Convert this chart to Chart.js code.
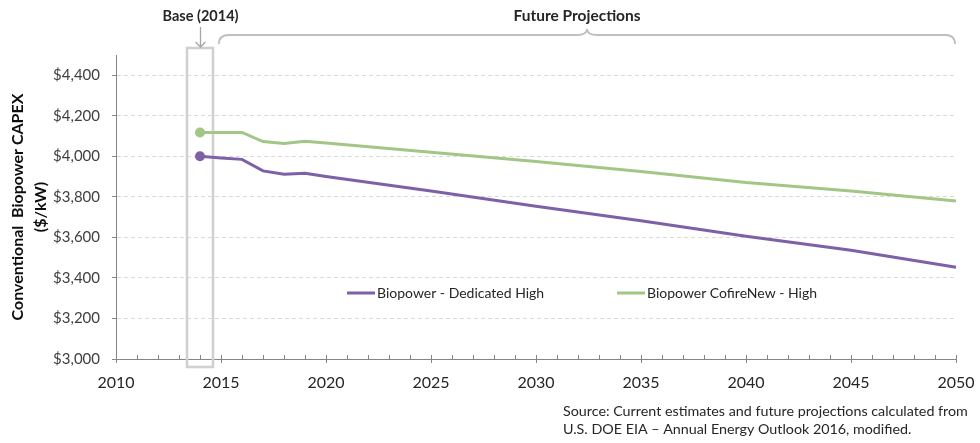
<!DOCTYPE html>
<html>
<head>
<meta charset="utf-8">
<script src="https://cdn.jsdelivr.net/npm/chart.js@4/dist/chart.umd.min.js"></script>
<style>
  html, body { margin: 0; padding: 0; background: #fff; }
  #wrap { width: 980px; height: 443px; position: relative; }
</style>
</head>
<body>
<div id="wrap"><canvas id="c" width="980" height="443"></canvas></div>
<script>
// ---- Data ----
const years = [2014, 2015, 2016, 2017, 2018, 2019, 2020, 2025, 2030, 2035, 2040, 2045, 2050];
const dedicatedHigh = [4000, 3992, 3985, 3928, 3912, 3916, 3900, 3829, 3754, 3682, 3606, 3537, 3453];
const cofireNewHigh = [4118, 4118, 4118, 4073, 4063, 4074, 4066, 4020, 3974, 3925, 3871, 3829, 3780];
const seriesNames = ['Biopower - Dedicated High', 'Biopower CofireNew - High'];
const yAxisTitle = ['Conventional  Biopower CAPEX', '($/kW)'];
const baseYear = 2014;
const baseLabel = 'Base (2014)';
const futureLabel = 'Future Projections';
const sourceLines = [
  'Source: Current estimates and future projections calculated from',
  'U.S. DOE EIA \u2013 Annual Energy Outlook 2016, modified.'
];

const PURPLE = '#7D60A7';
const GREEN = '#A3C586';
const FONT = 'Lato, "Open Sans", "DejaVu Sans", sans-serif';

const toPoints = (xs, ys) => xs.map((x, i) => ({ x: x, y: ys[i] }));

const annotations = {
  id: 'annotations',
  beforeDatasetsDraw(chart) {
    const { ctx } = chart;
    const xs = chart.scales.x;
    const area = chart.chartArea;
    ctx.save();
    // minor / major x ticks
    ctx.strokeStyle = '#868686';
    ctx.lineWidth = 1;
    for (let yr = xs.min; yr <= xs.max; yr++) {
      const px = Math.round(xs.getPixelForValue(yr)) + 0.5;
      ctx.beginPath();
      ctx.moveTo(px, area.bottom - 4);
      ctx.lineTo(px, yr % 5 === 0 ? area.bottom + 4 : area.bottom);
      ctx.stroke();
    }
    // base year box
    const bx = xs.getPixelForValue(baseYear);
    const halfW = 13;
    ctx.strokeStyle = '#D0D0D0';
    ctx.lineWidth = 2.6;
    ctx.strokeRect(bx - halfW, area.top - 7, halfW * 2, area.bottom - area.top + 15);
    ctx.restore();
  },
  afterDraw(chart) {
    const { ctx } = chart;
    const xs = chart.scales.x;
    const area = chart.chartArea;
    ctx.save();
    const bx = Math.round(xs.getPixelForValue(baseYear)) + 0.5;
    // Base label
    ctx.fillStyle = '#262626';
    ctx.font = 'bold 14.5px ' + FONT;
    ctx.textAlign = 'center';
    ctx.textBaseline = 'alphabetic';
    ctx.fillText(baseLabel, bx, 21);
    // arrow
    ctx.strokeStyle = '#A6A6A6';
    ctx.lineWidth = 1.3;
    ctx.beginPath();
    ctx.moveTo(bx, 27);
    ctx.lineTo(bx, area.top - 8);
    ctx.moveTo(bx - 5, area.top - 13);
    ctx.lineTo(bx, area.top - 8);
    ctx.lineTo(bx + 5, area.top - 13);
    ctx.stroke();
    // curly brace
    const x0 = xs.getPixelForValue(2014.9);
    const x1 = xs.getPixelForValue(xs.max) - 1;
    const xm = 587;
    const yb = 35, yTop = 29, yEnd = 44;
    ctx.strokeStyle = '#BFBFBF';
    ctx.lineWidth = 1.8;
    ctx.beginPath();
    ctx.moveTo(x0, yEnd);
    ctx.quadraticCurveTo(x0, yb, x0 + 10, yb);
    ctx.lineTo(xm - 10, yb);
    ctx.quadraticCurveTo(xm, yb, xm, yTop);
    ctx.quadraticCurveTo(xm, yb, xm + 10, yb);
    ctx.lineTo(x1 - 10, yb);
    ctx.quadraticCurveTo(x1, yb, x1, yEnd);
    ctx.stroke();
    ctx.fillStyle = '#262626';
    ctx.font = 'bold 15.5px ' + FONT;
    ctx.textAlign = 'center';
    ctx.fillText(futureLabel, 577, 21);
    // legend (inside plot area)
    const ly = 293;
    const items = [
      { x: 347, color: chart.data.datasets[0].borderColor, text: chart.data.datasets[0].label },
      { x: 617, color: chart.data.datasets[1].borderColor, text: chart.data.datasets[1].label }
    ];
    ctx.font = '14px ' + FONT;
    ctx.textAlign = 'left';
    ctx.textBaseline = 'middle';
    items.forEach(it => {
      ctx.strokeStyle = it.color;
      ctx.lineWidth = 3;
      ctx.beginPath();
      ctx.moveTo(it.x, ly);
      ctx.lineTo(it.x + 28, ly);
      ctx.stroke();
      ctx.fillStyle = '#262626';
      ctx.fillText(it.text, it.x + 30, ly);
    });
    // source
    ctx.font = '14.3px ' + FONT;
    ctx.textBaseline = 'alphabetic';
    ctx.fillStyle = '#262626';
    ctx.fillText(sourceLines[0], 563, 416);
    ctx.fillText(sourceLines[1], 563, 434);
    ctx.restore();
  }
};

new Chart(document.getElementById('c'), {
  type: 'line',
  data: {
    datasets: [
      {
        label: seriesNames[0],
        data: toPoints(years, dedicatedHigh),
        borderColor: PURPLE,
        backgroundColor: PURPLE,
        borderWidth: 3,
        pointRadius: c => (c.dataIndex === 0 ? 5 : 0),
        pointBackgroundColor: PURPLE,
        pointBorderWidth: 0,
        tension: 0,
        clip: false
      },
      {
        label: seriesNames[1],
        data: toPoints(years, cofireNewHigh),
        borderColor: GREEN,
        backgroundColor: GREEN,
        borderWidth: 3,
        pointRadius: c => (c.dataIndex === 0 ? 5 : 0),
        pointBackgroundColor: GREEN,
        pointBorderWidth: 0,
        tension: 0,
        clip: false
      }
    ]
  },
  options: {
    responsive: false,
    animation: false,
    devicePixelRatio: 1,
    layout: { padding: { left: 0, right: 24, top: 55, bottom: 0 } },
    plugins: { legend: { display: false }, tooltip: { enabled: false } },
    scales: {
      x: {
        type: 'linear',
        min: 2010,
        max: 2050,
        afterFit: s => { s.height = 84; s.paddingLeft = 0; s.paddingRight = 0; },
        ticks: {
          stepSize: 5,
          padding: 14,
          color: '#262626',
          font: { family: FONT, size: 16 },
          callback: v => String(v),
          maxRotation: 0
        },
        grid: { display: true, drawOnChartArea: false, drawTicks: false, color: 'rgba(0,0,0,0)' },
        border: { display: true, color: '#868686', width: 1 }
      },
      y: {
        type: 'linear',
        min: 3000,
        max: 4500,
        afterFit: s => { s.width = 116; },
        afterBuildTicks: s => { s.ticks = s.ticks.filter(t => t.value % 200 === 0); },
        ticks: {
          stepSize: 200,
          padding: 12,
          color: '#404040',
          font: { family: FONT, size: 15 },
          callback: v => '$' + Number(v).toLocaleString('en-US')
        },
        grid: {
          color: '#D9D9D9',
          lineWidth: 1,
          tickLength: 4,
          tickColor: '#868686',
          tickBorderDash: [],
          drawTicks: true
        },
        border: { display: true, color: '#868686', width: 1, dash: [4, 3] },
        title: {
          display: true,
          text: yAxisTitle,
          color: '#0D0D0D',
          font: { family: FONT, size: 16, weight: 'bold', lineHeight: 1.4 },
          padding: { top: 7, bottom: 0 }
        }
      }
    }
  },
  plugins: [annotations]
});
</script>
</body>
</html>
